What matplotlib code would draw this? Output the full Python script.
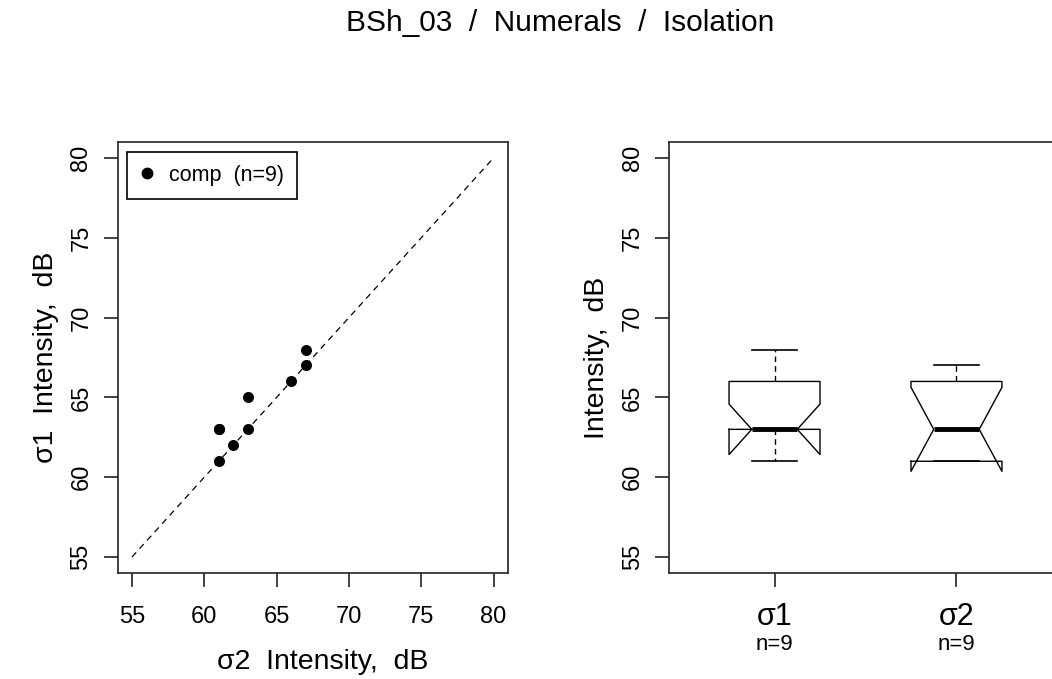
import numpy as np
import matplotlib
matplotlib.use("Agg")
import matplotlib.pyplot as plt
from matplotlib.lines import Line2D

plt.rcParams['font.family'] = ['Liberation Sans', 'DejaVu Sans']

# Paired intensity measurements (dB), one pair per token
sigma1 = [61, 63, 63, 62, 63, 65, 66, 67, 68]
sigma2 = [61, 61, 61, 62, 63, 63, 66, 67, 67]
group_labels = ["σ1", "σ2"]
legend_label = "comp  (n=9)"
title = "BSh_03  /  Numerals  /  Isolation"
ticks = [55, 60, 65, 70, 75, 80]

W, H = 1052, 679
fig = plt.figure(figsize=(W / 100, H / 100), dpi=100)


def px_axes(x0, y0, x1, y1):
    return fig.add_axes([x0 / W, 1 - y1 / H, (x1 - x0) / W, (y1 - y0) / H])


def style(ax):
    for s in ax.spines.values():
        s.set_linewidth(1.2)
        s.set_color("#222222")
    ax.tick_params(axis="both", length=10, width=1.2, color="#222222",
                   labelsize=17, pad=8)
    ax.tick_params(axis="x", pad=14)
    for lab in ax.get_yticklabels():
        lab.set_rotation(90)
        lab.set_va("center")


# ---- scatter: sigma1 vs sigma2 ----
ax1 = px_axes(117.5, 142, 508, 573)
ax1.plot([55, 80], [55, 80], color="black", lw=0.9, ls=(0, (5, 4)))
ax1.scatter(sigma2, sigma1, s=48, color="black", zorder=3)
ax1.set_xlim(54, 81)
ax1.set_ylim(54, 81)
ax1.set_xticks(ticks)
ax1.set_yticks(ticks)
style(ax1)
ax1.set_xlabel("σ2  Intensity,  dB", fontsize=20.5)
ax1.xaxis.set_label_coords(0.525, -0.176)
ax1.set_ylabel("σ1  Intensity,  dB", fontsize=20.5, labelpad=8)
handle = Line2D([], [], ls="none", marker="o", ms=7.5, color="black")
leg = ax1.legend([handle], [legend_label], loc="upper left", fontsize=15.5,
                 fancybox=False, edgecolor="black", framealpha=1,
                 borderaxespad=0.45, handletextpad=0.75, handlelength=0.6,
                 borderpad=0.6)
leg.get_frame().set_linewidth(1.2)

# ---- notched box plots ----
ax2 = px_axes(669, 142, 1062, 573)
data = [sigma1, sigma2]
conf = []
for d in data:
    q1, med, q3 = np.percentile(d, [25, 50, 75])
    half = 1.58 * (q3 - q1) / np.sqrt(len(d))
    conf.append((med - half, med + half))
ax2.boxplot(data, positions=[1, 2], widths=0.5, notch=True,
            conf_intervals=conf, showfliers=False,
            boxprops=dict(color="black", lw=1.0),
            whiskerprops=dict(color="black", lw=1.0, ls=(0, (4, 3))),
            capprops=dict(color="black", lw=1.2),
            medianprops=dict(color="black", lw=3.5, solid_capstyle="butt"))
ax2.set_xlim(0.42, 2.58)
ax2.set_ylim(54, 81)
ax2.set_yticks(ticks)
ax2.set_xticks([1, 2])
ax2.set_xticklabels([])
style(ax2)
ax2.set_ylabel("Intensity,  dB", fontsize=20.5, labelpad=9)
for i, (lab, d) in enumerate(zip(group_labels, data), start=1):
    ax2.annotate(lab, xy=(i, 0), xycoords=("data", "axes fraction"),
                 xytext=(0, -44), textcoords="offset pixels",
                 ha="center", va="center", fontsize=22)
    ax2.annotate(f"n={len(d)}", xy=(i, 0), xycoords=("data", "axes fraction"),
                 xytext=(0, -72), textcoords="offset pixels",
                 ha="center", va="center", fontsize=16)

fig.text(560 / W, 1 - 23 / H, title, ha="center", va="center", fontsize=21.5)

fig.savefig("out.png", dpi=100)
